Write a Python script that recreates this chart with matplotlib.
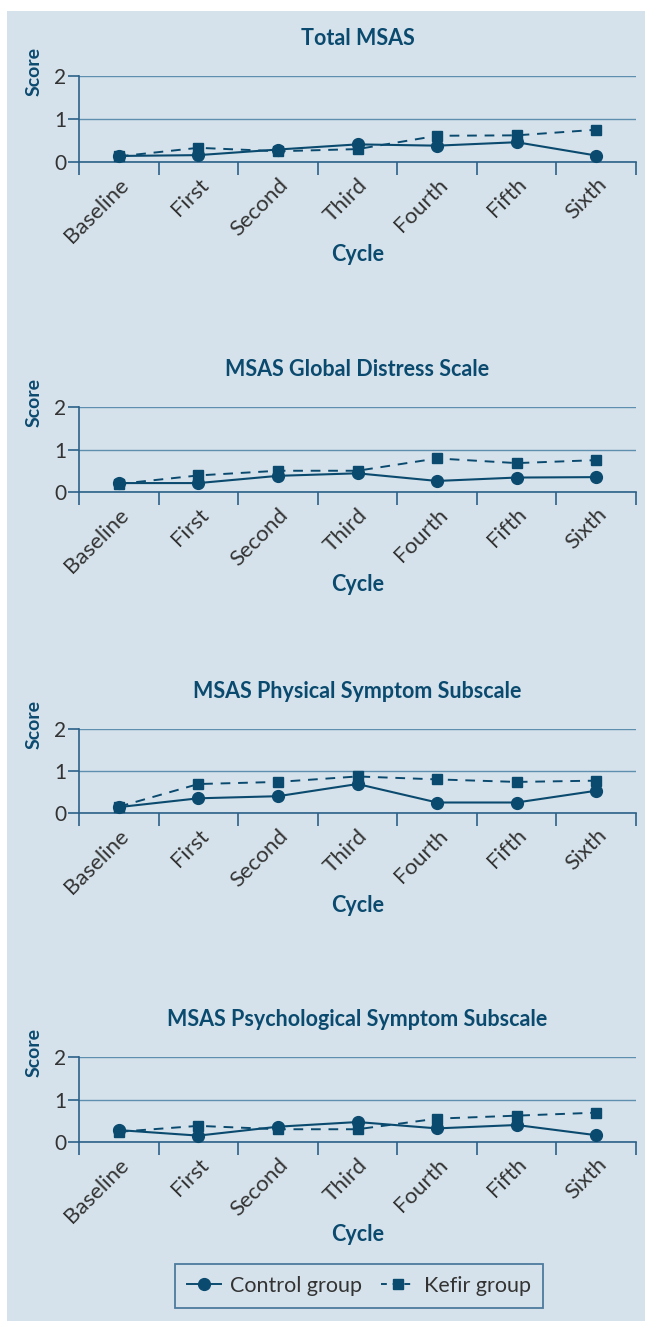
import matplotlib.pyplot as plt
from matplotlib.patches import Rectangle
from matplotlib.lines import Line2D

cycles = ["Baseline", "First", "Second", "Third", "Fourth", "Fifth", "Sixth"]

titles = ["Total MSAS", "MSAS Global Distress Scale",
          "MSAS Physical Symptom Subscale", "MSAS Psychological Symptom Subscale"]

control_total = [0.14, 0.16, 0.29, 0.41, 0.38, 0.46, 0.15]
kefir_total = [0.13, 0.33, 0.25, 0.30, 0.61, 0.62, 0.75]

control_global = [0.21, 0.21, 0.38, 0.44, 0.26, 0.34, 0.35]
kefir_global = [0.19, 0.39, 0.50, 0.50, 0.79, 0.68, 0.75]

control_physical = [0.14, 0.35, 0.40, 0.69, 0.25, 0.25, 0.53]
kefir_physical = [0.15, 0.69, 0.74, 0.87, 0.80, 0.74, 0.77]

control_psych = [0.28, 0.15, 0.36, 0.47, 0.32, 0.40, 0.16]
kefir_psych = [0.24, 0.38, 0.30, 0.30, 0.55, 0.62, 0.69]

control_series = [control_total, control_global, control_physical, control_psych]
kefir_series = [kefir_total, kefir_global, kefir_physical, kefir_psych]

BG = "#d5e2eb"
NAVY = "#0b4a6f"
GRID = "#5f8fae"
SPINE = "#2b6189"
TXT = "#333333"

plt.rcParams['font.family'] = ['Lato', 'DejaVu Sans']

W, H = 645, 1321
fig = plt.figure(figsize=(W / 100, H / 100), dpi=100)
fig.patch.set_facecolor("white")
fig.patches.append(Rectangle((7 / W, 0), 1, 1 - 11 / H, transform=fig.transFigure,
                             facecolor=BG, edgecolor="none", zorder=-10))

# pixel positions of each panel: (top of y=2, y=0)
panels = [(76, 162), (407, 492), (729, 813), (1057, 1142)]
left, right = 79, 636

x = list(range(len(cycles)))
for i, (top, bot) in enumerate(panels):
    ax = fig.add_axes([left / W, 1 - bot / H, (right - left) / W, (bot - top) / H])
    ax.set_facecolor("none")
    ax.set_xlim(-0.5, len(cycles) - 0.5)
    ax.set_ylim(0, 2)

    for s in ["top", "right"]:
        ax.spines[s].set_visible(False)
    for s in ["left", "bottom"]:
        ax.spines[s].set_color(SPINE)
        ax.spines[s].set_linewidth(1.2)

    ax.set_yticks([0, 1, 2])
    ax.set_yticklabels(["0", "1", "2"], fontsize=15, color=TXT)
    ax.tick_params(axis="y", length=8, width=1.2, color=SPINE, pad=1)
    ax.yaxis.grid(True, color=GRID, linewidth=1)
    ax.set_axisbelow(True)

    # category boundary ticks, labels at the centres
    ax.set_xticks([k - 0.5 for k in range(len(cycles) + 1)])
    ax.set_xticklabels([])
    ax.tick_params(axis="x", which="major", length=9, width=1.2, color=SPINE, direction="out")
    ax.set_xticks(x, minor=True)
    ax.set_xticklabels(cycles, minor=True, rotation=45, ha="right",
                       rotation_mode="anchor", fontsize=16, color=TXT)
    ax.tick_params(axis="x", which="minor", length=0, pad=9)

    ax.plot(x, kefir_series[i], color=NAVY, linestyle=(0, (5, 4)), linewidth=1.4,
            marker="s", markersize=6.5, clip_on=False, zorder=3)
    ax.plot(x, control_series[i], color=NAVY, linestyle="-", linewidth=1.5,
            marker="o", markersize=8.5, clip_on=False, zorder=4)

    ax.set_title(titles[i], fontsize=15.5, fontweight="bold", color=NAVY, pad=22)
    ax.set_ylabel("Score", fontsize=14, fontweight="bold", color=NAVY)
    ax.yaxis.set_label_coords(-0.066, 1.05)
    ax.set_xlabel("Cycle", fontsize=15.5, fontweight="bold", color=NAVY, labelpad=-2)

handles = [Line2D([], [], color=NAVY, linestyle="-", marker="o", markersize=8.5, linewidth=1.4),
           Line2D([], [], color=NAVY, linestyle=(0, (3, 3)), marker="s", markersize=6.5, linewidth=1.4)]
leg = fig.legend(handles, ["Control group", "Kefir group"], loc="center",
                 bbox_to_anchor=(359 / W, 1 - 1286 / H), ncol=2, fontsize=15.5,
                 frameon=True, fancybox=False, handlelength=1.6, columnspacing=0.9,
                 handletextpad=0.4, borderpad=0.55, borderaxespad=0, labelcolor=TXT)
leg.get_frame().set_edgecolor(SPINE)
leg.get_frame().set_linewidth(1.3)
leg.get_frame().set_facecolor(BG)

plt.savefig("out.png", dpi=100, facecolor=fig.get_facecolor())
